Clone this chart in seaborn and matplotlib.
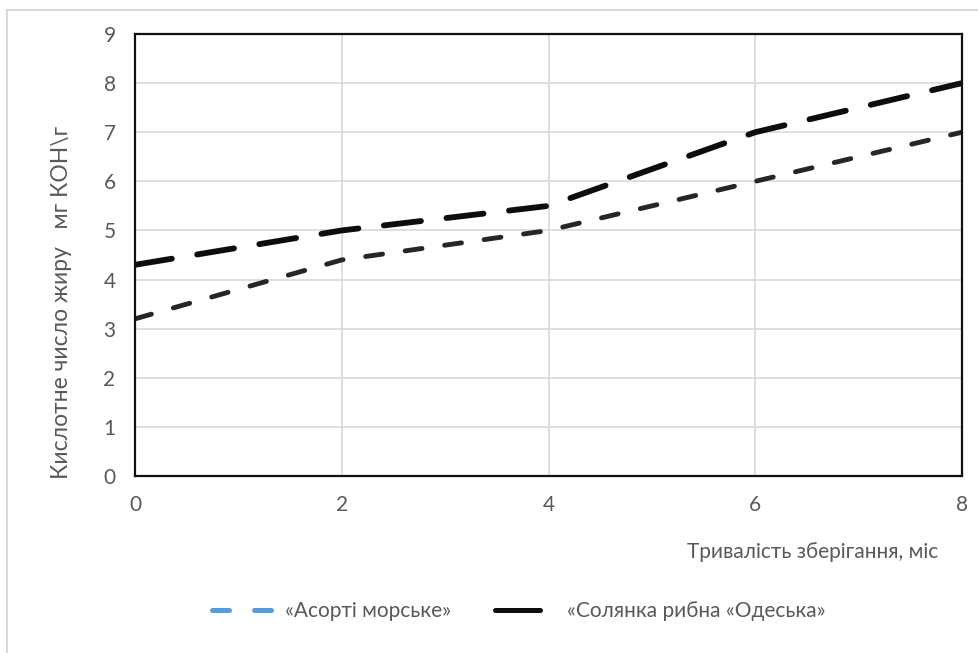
import matplotlib
matplotlib.use("Agg")
import matplotlib.pyplot as plt
from matplotlib.lines import Line2D
from matplotlib.patches import Rectangle
import seaborn as sns
import pandas as pd

months = [0, 2, 4, 6, 8]
asorti = [3.2, 4.4, 5.0, 6.0, 7.0]
solyanka = [4.3, 5.0, 5.5, 7.0, 8.0]
series_names = ["«Асорті морське»", "«Солянка рибна «Одеська»"]
x_label = "Тривалість зберігання, міс"
y_label = "Кислотне число жиру   мг КОН\\г"

df = pd.DataFrame({
    "month": months * 2,
    "value": asorti + solyanka,
    "series": [series_names[0]] * len(months) + [series_names[1]] * len(months),
})

sns.set_theme(style="white")
plt.rcParams["font.family"] = ["Lato", "DejaVu Sans"]
FS = 15
TXT = "#595959"

fig = plt.figure(figsize=(9.79, 6.53), dpi=100)
ax = fig.add_axes([135 / 979, 1 - 476 / 653, (962 - 135) / 979, (476 - 34) / 653])

sns.lineplot(data=df, x="month", y="value", hue="series", style="series",
             palette={series_names[0]: "#262626", series_names[1]: "#0d0d0d"},
             dashes={series_names[0]: (3.5, 4.7), series_names[1]: (6.4, 4.4)},
             ax=ax, legend=False)
lws = [3.5, 4.2]
for ln, lw in zip(ax.lines, lws):
    ln.set_linewidth(lw)
    ln.set_dash_capstyle("round")
    ln.set_solid_capstyle("round")

ax.set_xlim(0, 8)
ax.set_ylim(0, 9)
ax.set_xticks([0, 2, 4, 6, 8])
ax.set_yticks(range(0, 10))
ax.grid(True, color="#d9d9d9", linewidth=1.2)
ax.set_axisbelow(True)
for s in ax.spines.values():
    s.set_visible(True)
    s.set_color("#111111")
    s.set_linewidth(1.6)
ax.tick_params(axis="both", length=0, labelsize=FS, labelcolor=TXT)
ax.tick_params(axis="y", pad=14)
ax.tick_params(axis="x", pad=14)
ax.set_xlabel("")
ax.set_ylabel("")

fig.text(813 / 979, 1 - 552 / 653, x_label, ha="center", va="center",
         fontsize=FS, color=TXT)
fig.text(62 / 979, 1 - 302 / 653, y_label, ha="center", va="center",
         rotation=90, fontsize=16.5, color=TXT)

h_blue = Line2D([], [], color="#5b9bd5", lw=3.6, linestyle=(0, (3.4, 5.0)),
                dash_capstyle="round")
h_black = Line2D([], [], color="#0d0d0d", lw=3.6, solid_capstyle="round")
fs_px = FS * 100 / 72
fig.legend([h_blue], [series_names[0]], loc="center left",
           bbox_to_anchor=(212 / 979, 1 - 611 / 653), frameon=False,
           fontsize=FS, handlelength=63 / fs_px, handletextpad=10 / fs_px,
           borderpad=0, borderaxespad=0, labelcolor=TXT)
fig.legend([h_black], [series_names[1]], loc="center left",
           bbox_to_anchor=(495 / 979, 1 - 611 / 653), frameon=False,
           fontsize=FS, handlelength=45 / fs_px, handletextpad=27 / fs_px,
           borderpad=0, borderaxespad=0, labelcolor=TXT)

fig.add_artist(Rectangle((7 / 979, -0.05), 1.2, 1 - 10 / 653 + 0.05,
                         transform=fig.transFigure, fill=False,
                         edgecolor="#d9d9d9", linewidth=1.5))

fig.savefig("out.png", dpi=100)
